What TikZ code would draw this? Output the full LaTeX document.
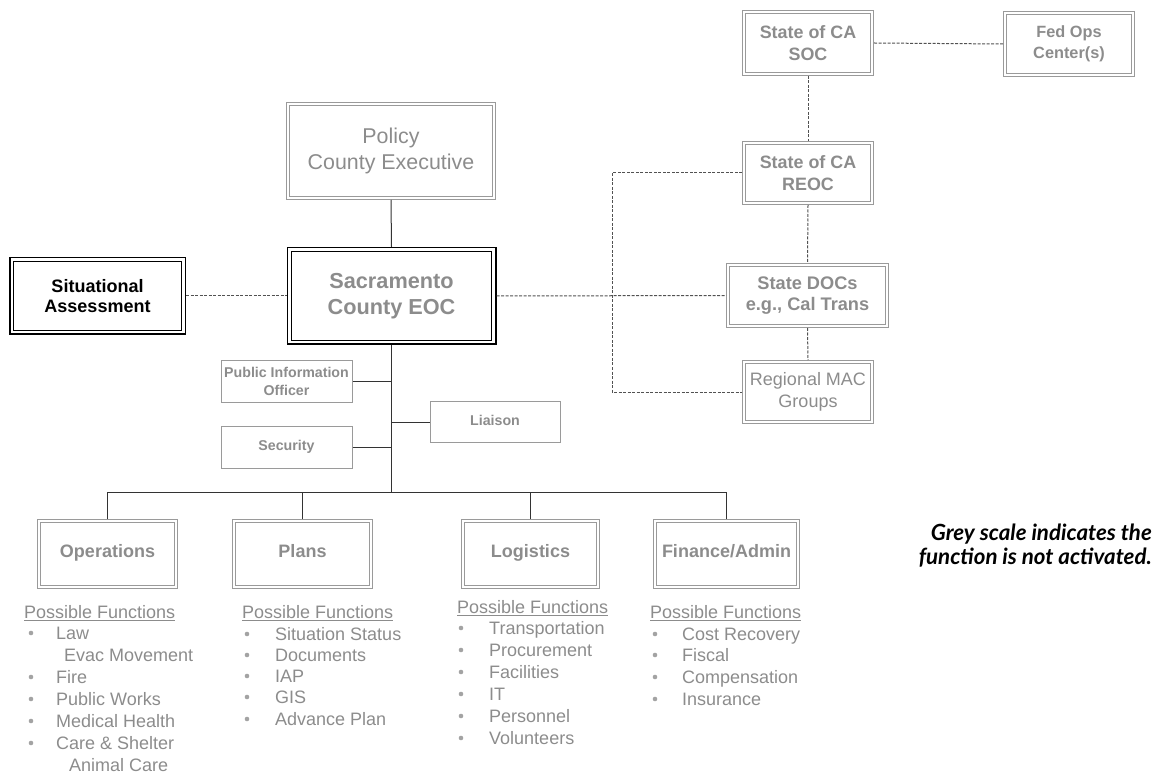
\documentclass[tikz,border=0pt]{standalone}
\usepackage{fontspec}
\setmainfont{Liberation Sans}
\newfontfamily\notefont{Lato}
\definecolor{gtext}{HTML}{8C8C8C}
\definecolor{gline}{HTML}{9A9A9A}
\definecolor{dline}{HTML}{333333}
\tikzset{
  dbox/.style={draw=gline, line width=1pt, align=center, inner sep=0pt, text=gtext,
    path picture={\draw[gline, line width=1pt]
      ([shift={(3pt,-3pt)}]path picture bounding box.north west) rectangle
      ([shift={(-3pt,3pt)}]path picture bounding box.south east);}},
  blackbox/.style={draw=black, line width=1.5pt, align=center, inner sep=0pt,
    path picture={\draw[black, line width=1.4pt]
      ([shift={(4pt,-4pt)}]path picture bounding box.north west) rectangle
      ([shift={(-4pt,4pt)}]path picture bounding box.south east);}},
  sbox/.style={draw=gline, line width=1pt, align=center, inner sep=0pt, text=gtext,
    font=\bfseries\fontsize{14.2}{18}\selectfont},
  oneline/.style={text height=0.72em, text depth=0em},
  conn/.style={draw=dline, line width=1pt},
  dconn/.style={draw=dline!85, line width=1pt, dash pattern=on 3pt off 1.5pt},
  hdr/.style={anchor=base west, yshift=-6.5pt, inner sep=0pt, text=gtext, font=\fontsize{18}{20}\selectfont},
  item/.style={anchor=base west, yshift=-6.5pt, inner sep=0pt, text=gtext, font=\fontsize{18}{20}\selectfont},
  dot/.style={circle, fill=gtext!80, inner sep=0pt, minimum size=4.6pt},
  secfont/.style={font=\bfseries\fontsize{18}{20}\selectfont},
}
\begin{document}
\begin{tikzpicture}[x=1pt,y=-1pt]
\useasboundingbox (0,0) rectangle (1159,775);

% main boxes
\node[dbox, minimum width=209pt, minimum height=97pt, font=\fontsize{21.4}{26}\selectfont]
  (policy) at (391,151) {Policy\\County Executive};
\node[blackbox, minimum width=208.5pt, minimum height=96.5pt, text=gtext, font=\bfseries\fontsize{21.7}{26}\selectfont]
  (eoc) at (391.5,296) {Sacramento\\County EOC};
\node[blackbox, minimum width=175.5pt, minimum height=76.5pt, font=\bfseries\fontsize{18}{20.5}\selectfont]
  (sit) at (97.5,296) {Situational\\Assessment};

\node[sbox, minimum width=131pt, minimum height=41pt] (pio) at (286.5,381.5) {Public Information\\Officer};
\node[sbox, oneline, minimum width=131pt, minimum height=42pt] (sec) at (286.5,447) {Security};
\node[sbox, oneline, minimum width=130pt, minimum height=41pt] (lia) at (495,422) {Liaison};

% sections
\node[dbox, secfont, oneline, minimum width=140pt, minimum height=69pt] (ops) at (107.5,554) {Operations};
\node[dbox, secfont, oneline, minimum width=140pt, minimum height=69pt] (pla) at (302.5,554) {Plans};
\node[dbox, secfont, oneline, minimum width=138pt, minimum height=69pt] (log) at (530.5,554) {Logistics};
\node[dbox, secfont, oneline, minimum width=146pt, minimum height=69pt] (fin) at (726.5,554) {Finance/Admin};

% state boxes
\node[dbox, minimum width=131pt, minimum height=65pt, font=\bfseries\fontsize{17.9}{21.5}\selectfont] (soc) at (808,43) {State of CA\\SOC};
\node[dbox, minimum width=131pt, minimum height=65pt, font=\bfseries\fontsize{16.3}{21.5}\selectfont] (fed) at (1069,44) {Fed Ops\\Center(s)};
\node[dbox, minimum width=131pt, minimum height=63pt, font=\bfseries\fontsize{17.9}{21.5}\selectfont] (reoc) at (808,173) {State of CA\\REOC};
\node[dbox, minimum width=162pt, minimum height=64pt, font=\bfseries\fontsize{18.2}{21.5}\selectfont] (docs) at (807.5,295.5) {State DOCs\\e.g., Cal Trans};
\node[dbox, minimum width=131pt, minimum height=63pt, font=\fontsize{18}{22}\selectfont] (mac) at (808,392) {Regional MAC\\Groups};

% solid connectors
\coordinate (bus) at (391,492);
\coordinate (lx) at (612,0);
\draw[conn] (policy.south) -- (eoc.north);
\draw[conn] (eoc.south) -- (eoc.south |- bus);
\draw[conn] (pio.east) -- (pio.east -| eoc.south);
\draw[conn] (sec.east) -- (sec.east -| eoc.south);
\draw[conn] (lia.west) -- (lia.west -| eoc.south);
\draw[conn] (ops.north) -- (ops.north |- bus) -- (fin.north |- bus) -- (fin.north);
\draw[conn] (pla.north) -- (pla.north |- bus);
\draw[conn] (log.north) -- (log.north |- bus);

% dashed connectors
\draw[dconn] (sit.east) -- (eoc.west);
\draw[dconn] (eoc.east) -- (docs.west);
\draw[dconn] (soc.east) -- (fed.west);
\draw[dconn] (soc.south) -- (reoc.north);
\draw[dconn] (reoc.south) -- (docs.north);
\draw[dconn] (docs.south) -- (mac.north);
\draw[dconn] (reoc.west) -- (reoc.west -| lx) -- (mac.west -| lx) -- (mac.west);

% Operations list
\node[hdr] (oh) at (24,612) {\underline{Possible Functions}};
\node[dot] (od1) at (31,633) {}; \node[item] (o1) at (56,633) {Law};
\node[item] (o1b) at (64,655) {Evac Movement};
\node[dot] (od2) at (31,677) {}; \node[item] (o2) at (56,677) {Fire};
\node[dot] (od3) at (31,699) {}; \node[item] (o3) at (56,699) {Public Works};
\node[dot] (od4) at (31,721) {}; \node[item] (o4) at (56,721) {Medical Health};
\node[dot] (od5) at (31,743) {}; \node[item] (o5) at (56,743) {Care \& Shelter};
\node[item] (o5b) at (69,765) {Animal Care};

% Plans list
\node[hdr] (ph) at (242,612) {\underline{Possible Functions}};
\node[dot] (pd1) at (247,634) {}; \node[item] (p1) at (275,634) {Situation Status};
\node[dot] (pd2) at (247,655) {}; \node[item] (p2) at (275,655) {Documents};
\node[dot] (pd3) at (247,676) {}; \node[item] (p3) at (275,676) {IAP};
\node[dot] (pd4) at (247,697) {}; \node[item] (p4) at (275,697) {GIS};
\node[dot] (pd5) at (247,719) {}; \node[item] (p5) at (275,719) {Advance Plan};

% Logistics list
\node[hdr] (lh) at (457,607) {\underline{Possible Functions}};
\node[dot] (ld1) at (461,628) {}; \node[item] (l1) at (489,628) {Transportation};
\node[dot] (ld2) at (461,650) {}; \node[item] (l2) at (489,650) {Procurement};
\node[dot] (ld3) at (461,672) {}; \node[item] (l3) at (489,672) {Facilities};
\node[dot] (ld4) at (461,694) {}; \node[item] (l4) at (489,694) {IT};
\node[dot] (ld5) at (461,716) {}; \node[item] (l5) at (489,716) {Personnel};
\node[dot] (ld6) at (461,738) {}; \node[item] (l6) at (489,738) {Volunteers};

% Finance list
\node[hdr] (fh) at (650,612) {\underline{Possible Functions}};
\node[dot] (fd1) at (655,634) {}; \node[item] (f1) at (682,634) {Cost Recovery};
\node[dot] (fd2) at (655,655) {}; \node[item] (f2) at (682,655) {Fiscal};
\node[dot] (fd3) at (655,677) {}; \node[item] (f3) at (682,677) {Compensation};
\node[dot] (fd4) at (655,699) {}; \node[item] (f4) at (682,699) {Insurance};

% note
\node[anchor=east, inner sep=0pt, font=\notefont\bfseries\itshape\fontsize{22.3}{24}\selectfont] (n1) at (1152,534) {Grey scale indicates the};
\node[anchor=east, inner sep=0pt, font=\notefont\bfseries\itshape\fontsize{22.3}{24}\selectfont] (n2) at (1152,558) {function is not activated.};
\end{tikzpicture}
\end{document}
